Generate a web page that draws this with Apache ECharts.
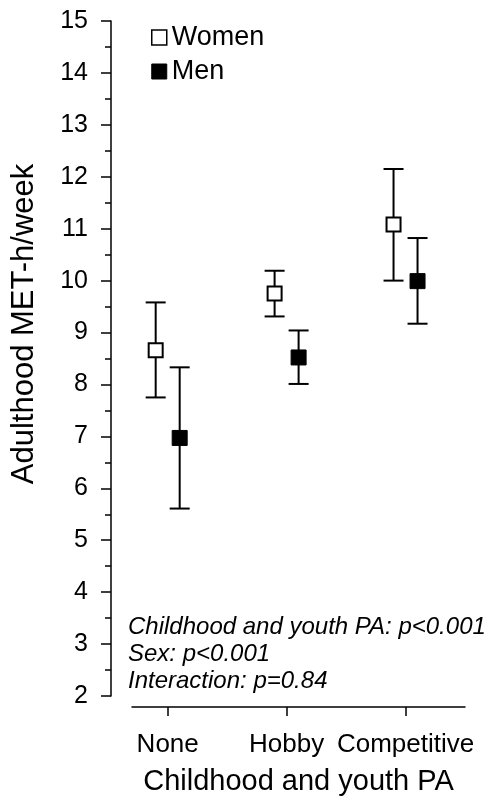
<!DOCTYPE html>
<html>
<head>
<meta charset="utf-8">
<script src="https://cdn.jsdelivr.net/npm/echarts@6/dist/echarts.min.js"></script>
<style>
  html, body { margin: 0; padding: 0; background: #fff; }
  #chart { width: 492px; height: 802px; }
</style>
</head>
<body>
<div id="chart"></div>
<script>
// 类别 (x 轴位置 1,2,3)
var categories = ['None', 'Hobby', 'Competitive'];
var catPos = [1, 2, 3];

// Women: 均值 与 误差线上下限
var womenMean = [8.66, 9.75, 11.08];
var womenLow  = [7.75, 9.31, 10.0];
var womenHigh = [9.58, 10.19, 12.15];

// Men
var menMean = [6.97, 8.52, 9.99];
var menLow  = [5.61, 8.01, 9.17];
var menHigh = [8.33, 9.04, 10.82];

// y 轴刻度
var yMin = 2, yMax = 15, yStep = 1;

var notes = [
    'Childhood and youth PA: p<0.001',
    'Sex: p<0.001',
    'Interaction: p=0.84'
];

var FONT = 'Liberation Sans, Arial, Helvetica, sans-serif';

var womenStyle = { color: '#fff', borderColor: '#000', borderWidth: 2, opacity: 1 };
var menStyle = { color: '#000', borderColor: '#000', borderWidth: 1, opacity: 1 };

var chart = echarts.init(document.getElementById('chart'));

function points(mean) {
    return catPos.map(function (x, i) { return [x, mean[i]]; });
}
function bars(low, high) {
    return catPos.map(function (x, i) { return [x, low[i], high[i]]; });
}

// 误差线, dx 为像素偏移
function errorBar(dx) {
    return function (params, api) {
        var lo = api.coord([api.value(0), api.value(1)]);
        var hi = api.coord([api.value(0), api.value(2)]);
        var x = lo[0] + dx;
        var half = 10;
        var style = { stroke: '#000', lineWidth: 2 };
        return {
            type: 'group',
            children: [
                { type: 'line', shape: { x1: x, y1: lo[1], x2: x, y2: hi[1] }, style: style },
                { type: 'line', shape: { x1: x - half, y1: lo[1], x2: x + half, y2: lo[1] }, style: style },
                { type: 'line', shape: { x1: x - half, y1: hi[1], x2: x + half, y2: hi[1] }, style: style }
            ]
        };
    };
}

var option = {
    animation: false,
    backgroundColor: '#fff',
    textStyle: { fontFamily: FONT, color: '#000' },
    grid: { left: 132, right: 27, top: 21, bottom: 106 },
    legend: {
        data: [
            { name: 'Women', itemStyle: { color: '#fff', borderColor: '#000', borderWidth: 1.5 } },
            { name: 'Men', itemStyle: { color: '#000', borderColor: '#000', borderWidth: 1 } }
        ],
        orient: 'vertical',
        left: 146,
        top: 19,
        icon: 'rect',
        itemWidth: 15,
        itemHeight: 15,
        itemGap: 7,
        textStyle: { fontSize: 27, color: '#000', fontFamily: FONT, lineHeight: 24 }
    },
    xAxis: {
        type: 'value',
        min: 0.7,
        max: 3.5,
        offset: 11,
        splitLine: { show: false },
        axisLine: { show: true, lineStyle: { color: '#000', width: 1.5 } },
        axisTick: { show: true, customValues: catPos, length: 9, lineStyle: { color: '#000', width: 1.5 } },
        axisLabel: {
            customValues: catPos,
            fontSize: 26,
            color: '#000',
            margin: 25,
            formatter: function (v) { return categories[Math.round(v) - 1] || ''; }
        },
        name: 'Childhood and youth PA',
        nameLocation: 'middle',
        nameGap: 60,
        nameTextStyle: { fontSize: 29, color: '#000' }
    },
    yAxis: {
        type: 'value',
        min: yMin,
        max: yMax,
        interval: yStep,
        offset: 21,
        splitLine: { show: false },
        axisLine: { show: true, lineStyle: { color: '#000', width: 1.5 } },
        axisTick: { show: true, length: 10, lineStyle: { color: '#000', width: 1.5 } },
        minorTick: { show: true, splitNumber: 2, length: 6, lineStyle: { color: '#000', width: 1.5 } },
        axisLabel: { fontSize: 25, color: '#000', margin: 23 }
    },
    graphic: [
        {
            type: 'text',
            x: 24,
            y: 324,
            rotation: Math.PI / 2,
            style: {
                text: 'Adulthood MET-h/week',
                font: '31px ' + FONT,
                fill: '#000',
                align: 'center',
                verticalAlign: 'middle'
            }
        },
        {
            type: 'text',
            x: 128,
            y: 614,
            style: {
                text: notes.join('\n'),
                font: 'italic 24px ' + FONT,
                lineHeight: 27,
                fill: '#000',
                align: 'left',
                verticalAlign: 'top'
            }
        }
    ],
    series: [
        {
            name: 'Women',
            type: 'custom',
            renderItem: errorBar(-12),
            data: bars(womenLow, womenHigh),
            itemStyle: womenStyle,
            z: 1,
            silent: true
        },
        {
            name: 'Men',
            type: 'custom',
            renderItem: errorBar(12),
            data: bars(menLow, menHigh),
            itemStyle: menStyle,
            z: 1,
            silent: true
        },
        {
            name: 'Women',
            type: 'scatter',
            symbol: 'rect',
            symbolSize: 14,
            symbolOffset: [-12, 0],
            itemStyle: womenStyle,
            data: points(womenMean),
            z: 3
        },
        {
            name: 'Men',
            type: 'scatter',
            symbol: 'rect',
            symbolSize: 15,
            symbolOffset: [12, 0],
            itemStyle: menStyle,
            data: points(menMean),
            z: 3
        }
    ]
};

chart.setOption(option);
</script>
</body>
</html>
